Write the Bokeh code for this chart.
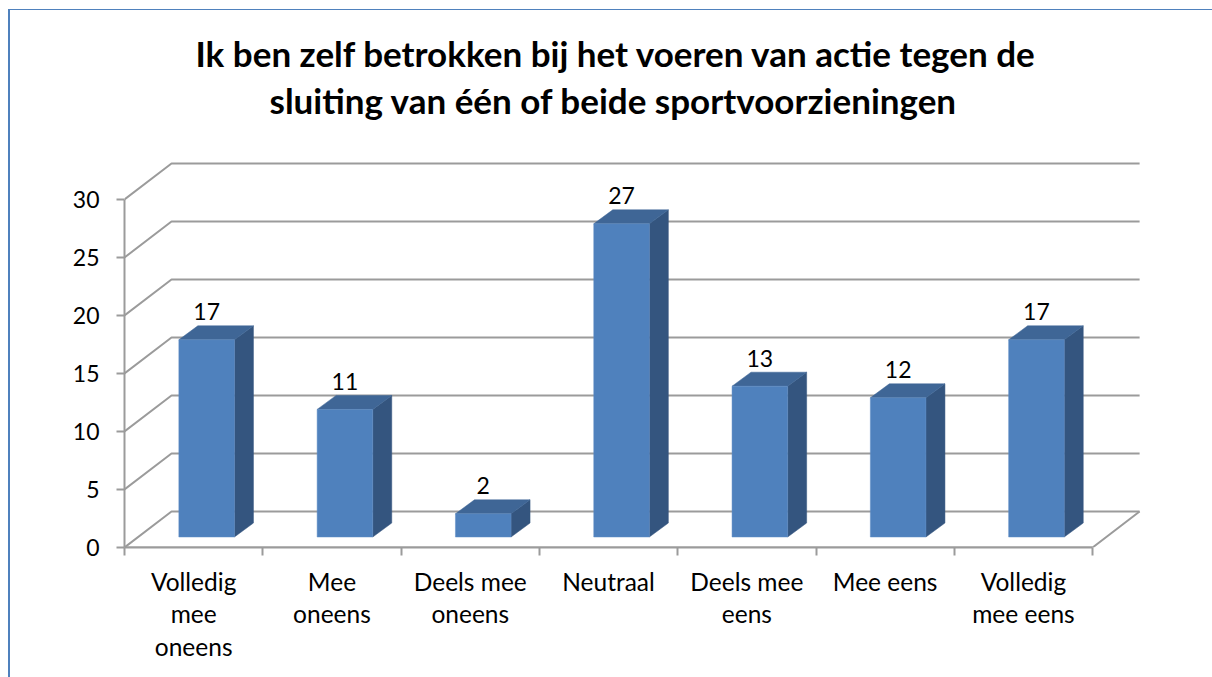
from bokeh.plotting import figure
from bokeh.embed import file_html
from bokeh.resources import INLINE
from bokeh.models import FixedTicker, Range1d, Title, ColumnDataSource
from bokeh.core.properties import value as val

TITLE_LINES = ["Ik ben zelf betrokken bij het voeren van actie tegen de",
               "sluiting van één of beide sportvoorzieningen"]
categories = ["Volledig\nmee\noneens", "Mee\noneens", "Deels mee\noneens", "Neutraal",
              "Deels mee\neens", "Mee eens", "Volledig\nmee eens"]
values = [17, 11, 2, 27, 13, 12, 17]
y_ticks = [0, 5, 10, 15, 20, 25, 30]

FONT = "Lato"
W, H = 1212, 677
LEFT, RIGHT, TOP, BOTTOM = 124, 66, 122, 130
PX_X = 138.3       # pixels per category
PX_Y = 11.6        # pixels per value unit
WALL_X, WALL_Y = 47 / PX_X, 36 / PX_Y
DEPTH_X, DEPTH_Y = 19 / PX_X, 14 / PX_Y
OFF_X, OFF_Y = 13 / PX_X, 10.5 / PX_Y
BAR_W = 55.6 / PX_X
GRID = "#9B9B9B"
BLUE = "#4F81BD"
n = len(categories)

p = figure(width=W, height=H, output_backend="svg", toolbar_location=None,
           x_range=Range1d(0, (W - LEFT - RIGHT) / PX_X),
           y_range=Range1d(0, (H - TOP - BOTTOM) / PX_Y),
           min_border_left=LEFT, min_border_right=RIGHT, min_border_top=TOP, min_border_bottom=BOTTOM,
           background_fill_color=None, border_fill_color=None)
p.outline_line_color = None
p.grid.visible = False
p.styles = {
    "background-color": "white",
    "background-image": f"linear-gradient({BLUE},{BLUE}),linear-gradient({BLUE},{BLUE})",
    "background-repeat": "no-repeat",
    "background-size": "2px 100%, 100% 1px",
    "background-position": "8px 9px, 8px 9px",
}

# back wall and floor lines
xs = [[0, WALL_X, n + WALL_X] for _ in y_ticks] + [[0, n, n + WALL_X]]
ys = [[v, v + WALL_Y, v + WALL_Y] for v in y_ticks] + [[0, 0, WALL_Y]]
p.multi_line(xs, ys, line_color=GRID, line_width=2)

# bars
lefts = [i + (1 - BAR_W) / 2 + OFF_X for i in range(n)]
rights = [l + BAR_W for l in lefts]
tops = [v + OFF_Y for v in values]
side_x = [[r, r + DEPTH_X, r + DEPTH_X, r] for r in rights]
side_y = [[OFF_Y, OFF_Y + DEPTH_Y, t + DEPTH_Y, t] for t in tops]
top_x = [[l, l + DEPTH_X, r + DEPTH_X, r] for l, r in zip(lefts, rights)]
top_y = [[t, t + DEPTH_Y, t + DEPTH_Y, t] for t in tops]
p.patches(side_x, side_y, fill_color="#34557F", line_color="#34557F", line_width=0.5)
p.patches(top_x, top_y, fill_color="#3F6696", line_color="#3F6696", line_width=0.5)
p.quad(left=lefts, right=rights, bottom=[OFF_Y] * n, top=tops, fill_color=BLUE,
       line_color="#5E8DC5", line_width=0.5)

# data labels
src = ColumnDataSource(dict(x=[l + BAR_W / 2 for l in lefts], y=[t + DEPTH_Y for t in tops],
                            t=[str(v) for v in values]))
p.text("x", "y", "t", source=src, text_align="center", text_baseline="middle", y_offset=-14,
       text_font=val(FONT), text_font_size="23px", text_color="black")

# axes
ya = p.yaxis[0]
ya.ticker = FixedTicker(ticks=y_ticks)
ya.bounds = (0, 30)
ya.axis_line_color = GRID
ya.axis_line_width = 2
ya.major_tick_line_color = GRID
ya.major_tick_line_width = 2
ya.major_tick_in = 0
ya.major_tick_out = 8
ya.minor_tick_line_color = None
ya.major_label_standoff = 17
ya.major_label_text_font = FONT
ya.major_label_text_font_size = "23px"
ya.major_label_text_color = "black"

xa = p.xaxis[0]
xa.ticker = FixedTicker(ticks=[i + 0.5 for i in range(n)], minor_ticks=list(range(n + 1)))
xa.bounds = (0, n)
xa.major_label_overrides = {i + 0.5: c for i, c in enumerate(categories)}
xa.axis_line_color = GRID
xa.axis_line_width = 2
xa.major_tick_line_color = None
xa.major_tick_in = 0
xa.major_tick_out = 0
xa.minor_tick_line_color = GRID
xa.minor_tick_line_width = 2
xa.minor_tick_in = 0
xa.minor_tick_out = 8
xa.major_label_standoff = 11
xa.major_label_text_font = FONT
xa.major_label_text_font_size = "24.5px"
xa.major_label_text_color = "black"
xa.major_label_text_line_height = 1.13

# title, one Title per line, nearest the plot first
for line, offset, standoff in [(TITLE_LINES[1], 145, 4), (TITLE_LINES[0], 71, 1)]:
    p.add_layout(Title(text=line, align="left", offset=offset, standoff=standoff, text_font=FONT,
                       text_font_style="bold", text_font_size="35px", text_color="black"), "above")

open("out.html", "w").write(file_html(p, INLINE))
